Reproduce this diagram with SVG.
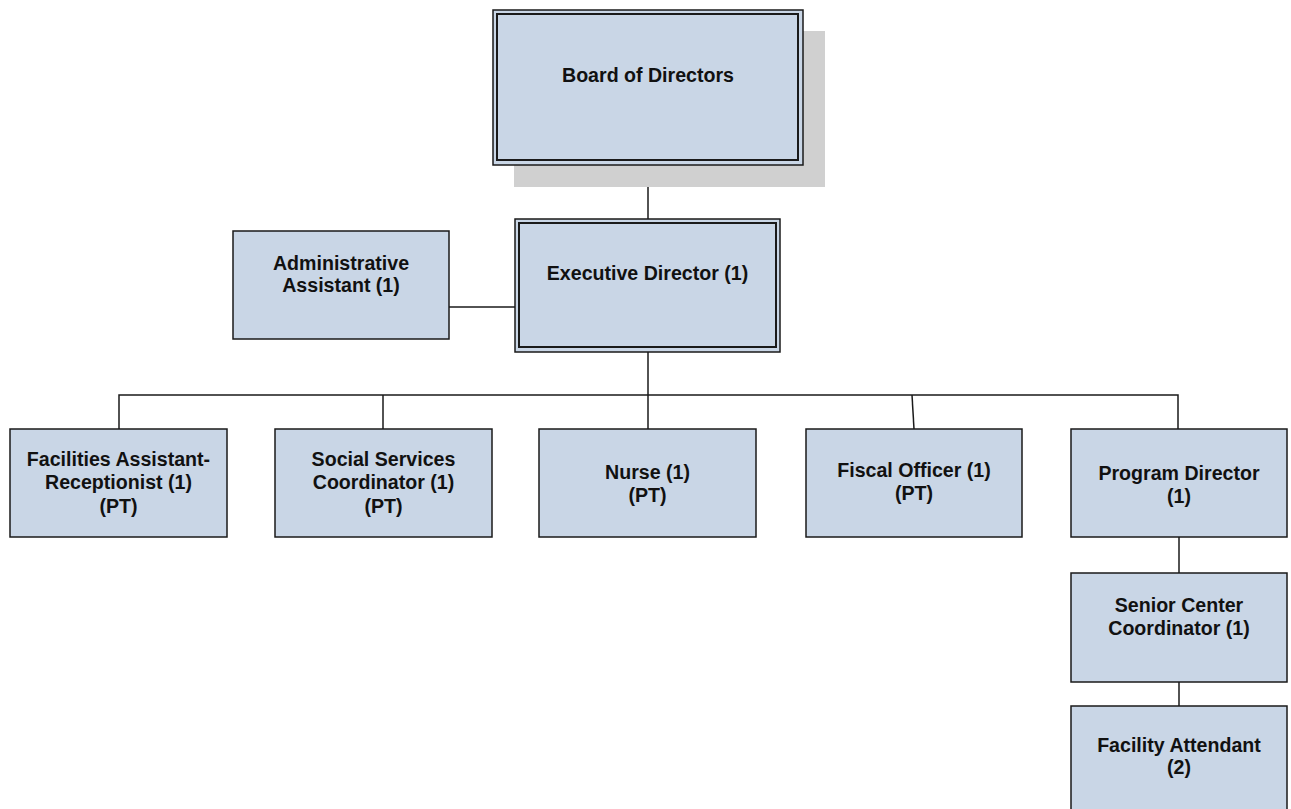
<svg xmlns="http://www.w3.org/2000/svg" width="1291" height="809" viewBox="0 0 1291 809">
<style>
.box{fill:#c9d6e6;stroke:#1a1a1a;stroke-width:1.5}
.outer{fill:#c9d6e6;stroke:#1a1a1a;stroke-width:1.5}
.inner{fill:none;stroke:#1a1a1a;stroke-width:2}
.shadow{fill:#d0d0d0}
.conn{fill:none;stroke:#1a1a1a;stroke-width:1.5}
text{font-family:"Liberation Sans",Arial,sans-serif;font-weight:bold;font-size:19.6px;fill:#111;text-anchor:middle}
</style>
<rect width="1291" height="809" fill="#ffffff"/>
<g id="connectors">
<line class="conn" x1="648" y1="165" x2="648" y2="219"/>
<line class="conn" x1="449" y1="307" x2="515" y2="307"/>
<line class="conn" x1="648" y1="352" x2="648" y2="395"/>
<polyline class="conn" points="119,429 119,395 1178,395 1178,429"/>
<line class="conn" x1="383" y1="395" x2="383" y2="429"/>
<line class="conn" x1="648" y1="395" x2="648" y2="429"/>
<line class="conn" x1="912" y1="395" x2="914" y2="429"/>
<line class="conn" x1="1179" y1="537" x2="1179" y2="573"/>
<line class="conn" x1="1179" y1="682" x2="1179" y2="706"/>
</g>
<g id="board">
<rect class="shadow" x="514" y="31" width="311" height="156"/>
<rect class="outer" x="493" y="10" width="310" height="155"/>
<rect class="inner" x="497" y="14" width="301" height="146"/>
<text x="648" y="82">Board of Directors</text>
</g>
<g id="executive">
<rect class="outer" x="515" y="219" width="265" height="133"/>
<rect class="inner" x="519" y="223" width="257" height="124"/>
<text x="647.5" y="280">Executive Director (1)</text>
</g>
<g id="admin">
<rect class="box" x="233" y="231" width="216" height="108"/>
<text x="341" y="270">Administrative</text>
<text x="341" y="292">Assistant (1)</text>
</g>
<g id="facilities-assistant">
<rect class="box" x="10" y="429" width="217" height="108"/>
<text x="118.5" y="466">Facilities Assistant-</text>
<text x="118.5" y="489">Receptionist (1)</text>
<text x="118.5" y="513">(PT)</text>
</g>
<g id="social-services">
<rect class="box" x="275" y="429" width="217" height="108"/>
<text x="383.5" y="466">Social Services</text>
<text x="383.5" y="489">Coordinator (1)</text>
<text x="383.5" y="513">(PT)</text>
</g>
<g id="nurse">
<rect class="box" x="539" y="429" width="217" height="108"/>
<text x="647.5" y="479">Nurse (1)</text>
<text x="647.5" y="502">(PT)</text>
</g>
<g id="fiscal-officer">
<rect class="box" x="806" y="429" width="216" height="108"/>
<text x="914" y="477">Fiscal Officer (1)</text>
<text x="914" y="500">(PT)</text>
</g>
<g id="program-director">
<rect class="box" x="1071" y="429" width="216" height="108"/>
<text x="1179" y="480">Program Director</text>
<text x="1179" y="503">(1)</text>
</g>
<g id="senior-center">
<rect class="box" x="1071" y="573" width="216" height="109"/>
<text x="1179" y="612">Senior Center</text>
<text x="1179" y="635">Coordinator (1)</text>
</g>
<g id="facility-attendant">
<rect class="box" x="1071" y="706" width="216" height="110"/>
<text x="1179" y="752">Facility Attendant</text>
<text x="1179" y="774">(2)</text>
</g>
</svg>
